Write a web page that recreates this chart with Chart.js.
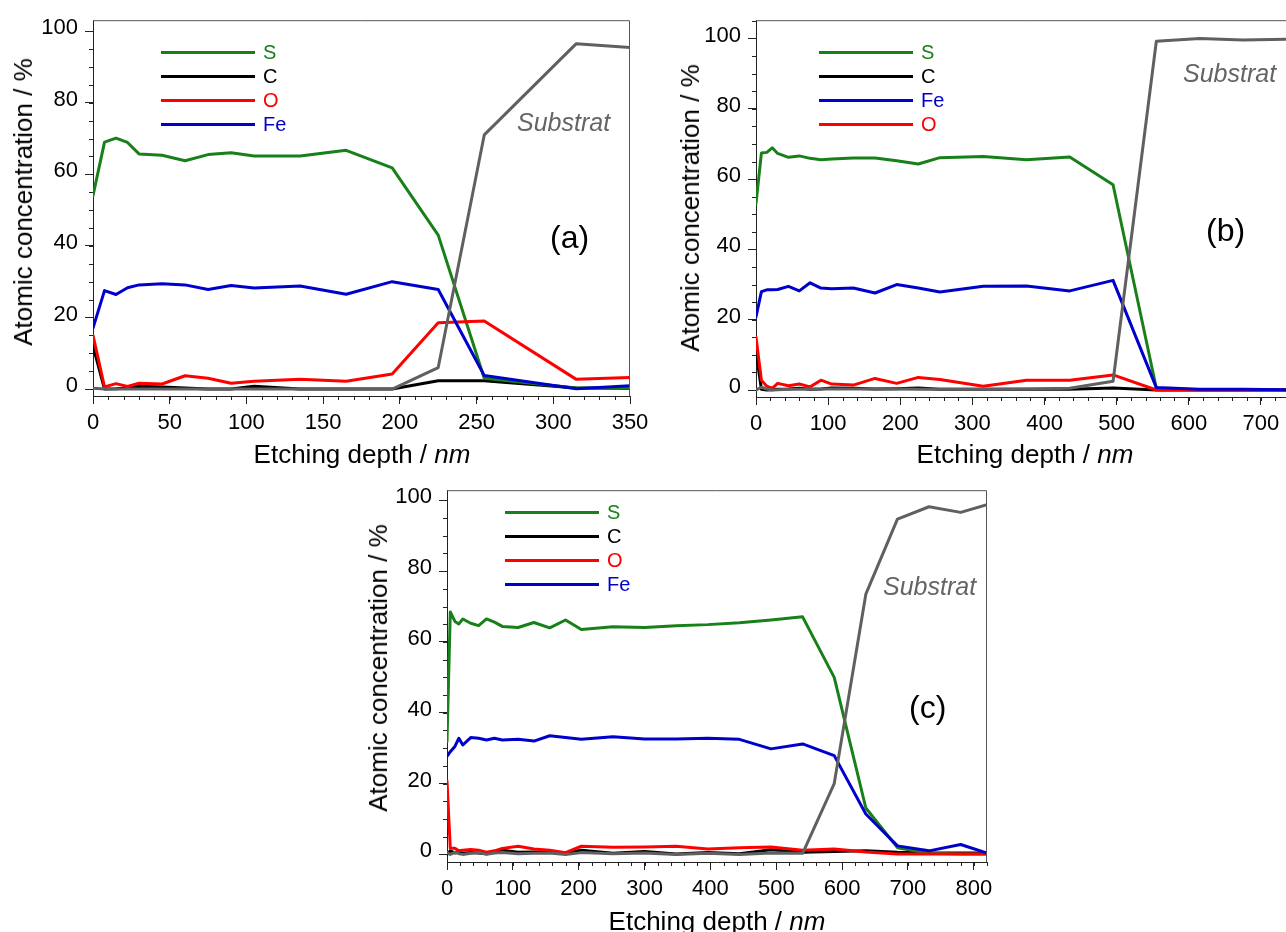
<!DOCTYPE html>
<html>
<head>
<meta charset="utf-8">
<title>Depth profiles</title>
<script src="https://cdn.jsdelivr.net/npm/chart.js@4.4.0/dist/chart.umd.min.js"></script>
<style>
  html, body { margin: 0; padding: 0; background: #fff; }
  body { width: 1286px; height: 932px; position: relative; overflow: hidden;
         font-family: Arial, "Liberation Sans", sans-serif; }
  canvas { position: absolute; }
  .txt { position: absolute; white-space: nowrap; line-height: 1; color: #000; }
  .ytitle { font-size: 26px; transform: translate(-50%, -50%) rotate(-90deg); }
  .xtitle { font-size: 26px; transform: translate(-50%, -50%); }
  .subst { font-size: 25px; font-style: italic; color: #646464; }
  .tag { font-size: 32px; }
  .legend { position: absolute; }
  .legend div { height: 24px; display: flex; align-items: center; }
  .legend .ln { display: inline-block; width: 94px; height: 3px; margin-right: 8px; }
  .legend .lb { font-size: 20px; line-height: 1; }
</style>
</head>
<body>

<canvas id="chartA" width="660" height="470" style="left:0;top:0"></canvas>
<canvas id="chartB" width="660" height="470" style="left:660px;top:0"></canvas>
<canvas id="chartC" width="660" height="462" style="left:350px;top:470px"></canvas>

<div class="txt ytitle" style="left:23px;top:202px">Atomic concentration / %</div>
<div class="txt xtitle" style="left:362px;top:454px">Etching depth / <i>nm</i></div>
<div class="txt subst" style="left:517px;top:110px">Substrat</div>
<div class="txt tag" style="left:550px;top:221px">(a)</div>
<div class="legend" id="legendA" style="left:161px;top:40px"></div>

<div class="txt ytitle" style="left:690px;top:208px">Atomic concentration / %</div>
<div class="txt xtitle" style="left:1025px;top:454px">Etching depth / <i>nm</i></div>
<div class="txt subst" style="left:1183px;top:61px">Substrat</div>
<div class="txt tag" style="left:1206px;top:214px">(b)</div>
<div class="legend" id="legendB" style="left:819px;top:40px"></div>

<div class="txt ytitle" style="left:378px;top:668px">Atomic concentration / %</div>
<div class="txt xtitle" style="left:717px;top:921px">Etching depth / <i>nm</i></div>
<div class="txt subst" style="left:883px;top:574px">Substrat</div>
<div class="txt tag" style="left:909px;top:691px">(c)</div>
<div class="legend" id="legendC" style="left:505px;top:500px"></div>

<script>
// ---------- data: panel (a) ----------
const depthA = [0, 7.5, 15, 22.5, 30, 45, 60, 75, 90, 105, 135, 165, 195, 225, 255, 315, 350];
const sA   = [54, 69, 70.1, 68.9, 65.7, 65.3, 63.8, 65.5, 66, 65.1, 65.1, 66.7, 61.8, 43, 3, 0.3, 0.4];
const cA   = [12, 0, 0.1, 0.3, 0.8, 0.6, 0.3, 0, 0, 0.8, 0, 0, 0, 2.3, 2.3, 0.3, 0.2];
const oA   = [15, 0.6, 1.5, 0.7, 1.6, 1.4, 3.7, 3, 1.6, 2.2, 2.7, 2.2, 4.2, 18.5, 19, 2.7, 3.2];
const feA  = [17, 27.5, 26.4, 28.3, 29.1, 29.4, 29.1, 27.8, 28.9, 28.2, 28.8, 26.5, 30, 27.8, 3.8, 0.1, 0.9];
const subA = [0.2, 0, 0, 0, 0, 0, 0, 0, 0, 0, 0, 0, 0, 6, 71, 96.5, 95.4];

// ---------- data: panel (b) ----------
const depthB = [0, 7.5, 15, 22.5, 30, 45, 60, 75, 90, 105, 135, 165, 195, 225, 255, 315, 375, 435, 495, 555, 615, 675, 735, 795];
const sB   = [53, 67.4, 67.6, 68.9, 67.3, 66.2, 66.6, 65.9, 65.5, 65.7, 66, 66, 65.2, 64.3, 66.1, 66.4, 65.5, 66.3, 58.4, 0.5, 0, 0, 0, 0];
const cB   = [11, 0.2, 0, 0.1, 0.2, 0.3, 0.5, 0.2, 0.3, 0.6, 0.5, 0.3, 0.4, 0.6, 0.2, 0.2, 0.2, 0.2, 0.6, 0, 0, 0, 0, 0];
const feB  = [20.8, 28, 28.5, 28.5, 28.6, 29.5, 28.2, 30.5, 29, 28.8, 29, 27.6, 30, 29, 27.9, 29.5, 29.6, 28.2, 31.2, 0.7, 0.2, 0.2, 0.1, 0.1];
const oB   = [15, 2.8, 1.1, 0.5, 1.9, 1.2, 1.7, 0.9, 2.8, 1.7, 1.4, 3.3, 1.9, 3.6, 3, 1.1, 2.8, 2.8, 4.3, 0, 0, 0, 0, 0];
const subB = [0, 0.8, 0.3, 0, 0.1, 0.2, 0.2, 0.3, 0.3, 0.3, 0.3, 0.3, 0.3, 0.2, 0.2, 0.2, 0.3, 0.5, 2.5, 99.2, 100, 99.6, 99.8, 99.7];

// ---------- data: panel (c) ----------
const depthC = [0, 5, 12, 18, 24, 36, 48, 60, 72, 84, 108, 132, 156, 180, 204, 252, 300, 348, 396, 444, 492, 540, 588, 636, 684, 732, 780, 820];
const sC   = [31.8, 68.5, 65.8, 65.1, 66.5, 65.3, 64.6, 66.5, 65.6, 64.4, 64.1, 65.5, 64, 66.2, 63.5, 64.3, 64.1, 64.6, 64.9, 65.4, 66.2, 67.1, 50, 13.1, 1.9, 0.3, 0.1, 0.1];
const cC   = [0, 1, 0.4, 0.8, 0.3, 0.5, 0.4, 0.2, 0.6, 1.2, 0.6, 0.7, 0.5, 0.3, 1.2, 0.3, 0.8, 0.1, 0.5, 0.2, 1.3, 0.6, 0.8, 1, 0.6, 0.4, 0.4, 0.4];
const oC   = [20.7, 1.7, 1.7, 1, 1.2, 1.4, 1.2, 0.6, 1, 1.7, 2.3, 1.5, 1.2, 0.5, 2.3, 2, 2.1, 2.3, 1.5, 1.9, 2.1, 1.2, 1.5, 0.7, 0.1, 0.1, 0.1, 0.1];
const feC  = [27.7, 29, 30.5, 32.8, 30.9, 33, 32.8, 32.3, 32.8, 32.3, 32.5, 32, 33.5, 33, 32.5, 33.2, 32.6, 32.6, 32.8, 32.5, 29.8, 31.2, 27.9, 11.4, 2.4, 1, 2.8, 0.4];
const subC = [0.5, 0, 0.6, 0.2, 0, 0.3, 0.5, 0, 0.4, 0.5, 0.2, 0.3, 0.4, 0, 0.5, 0.2, 0.4, 0, 0.3, 0, 0.4, 0.3, 20, 73.5, 94.7, 98.2, 96.6, 98.8];

// tick labels
const yTicks  = [0, 20, 40, 60, 80, 100];
const xTicksA = [0, 50, 100, 150, 200, 250, 300, 350];
const xTicksB = [0, 100, 200, 300, 400, 500, 600, 700];
const xTicksC = [0, 100, 200, 300, 400, 500, 600, 700, 800];

const colours = { S: '#188018', C: '#000000', O: '#ff0000', Fe: '#0000cc', Substrat: '#606060' };
const FONT = 'Arial, "Liberation Sans", sans-serif';

// minor ticks and the top/right frame of the plot box
const minorTicks = {
    id: 'minorTicks',
    afterDraw(chart, args, opts) {
        const { ctx, chartArea, scales } = chart;
        const xs = scales.x, ys = scales.y;
        ctx.save();
        ctx.strokeStyle = '#222';
        ctx.lineWidth = 1;
        ctx.beginPath();
        for (let v = 0; v <= xs.max; v += opts.x) {
            const px = Math.round(xs.getPixelForValue(v)) + 0.5;
            ctx.moveTo(px, chartArea.bottom);
            ctx.lineTo(px, chartArea.bottom + 4);
        }
        for (let v = 0; v <= ys.max; v += opts.y) {
            const py = Math.round(ys.getPixelForValue(v)) + 0.5;
            ctx.moveTo(chartArea.left, py);
            ctx.lineTo(chartArea.left - 4, py);
        }
        ctx.stroke();
        ctx.strokeStyle = '#555';
        ctx.beginPath();
        ctx.moveTo(chartArea.left, chartArea.top + 0.5);
        ctx.lineTo(chartArea.right - 0.5, chartArea.top + 0.5);
        ctx.lineTo(chartArea.right - 0.5, chartArea.bottom);
        ctx.stroke();
        ctx.restore();
    }
};

function makePanel(p) {
    // dataset 0 is drawn on top
    const order = ['Substrat', 'Fe', 'O', 'S', 'C'];
    const datasets = order.map(name => ({
        label: name,
        data: p.depth.map((d, i) => ({ x: d, y: p.series[name][i] })),
        borderColor: colours[name],
        borderWidth: 3,
        borderJoinStyle: 'round',
        borderCapStyle: 'round',
        pointRadius: 0,
        tension: 0,
        fill: false
    }));

    new Chart(document.getElementById(p.id), {
        type: 'line',
        data: { datasets },
        options: {
            responsive: false,
            animation: false,
            events: [],
            layout: { padding: { top: p.padTop, right: p.padRight, left: 0, bottom: 0 } },
            plugins: {
                legend: { display: false },
                tooltip: { enabled: false },
                minorTicks: { x: p.minorX, y: 5 }
            },
            scales: {
                x: {
                    type: 'linear',
                    min: 0,
                    max: p.xMax,
                    afterBuildTicks: s => { s.ticks = p.xTicks.map(v => ({ value: v })); },
                    afterFit: s => { s.height = p.xAxisH; },
                    grid: { drawOnChartArea: false, tickLength: 8, tickColor: '#222' },
                    border: { color: '#222' },
                    ticks: { color: '#000', font: { family: FONT, size: 22 }, padding: 6, maxRotation: 0, autoSkip: false }
                },
                y: {
                    min: p.yMin,
                    max: p.yMax,
                    afterBuildTicks: s => { s.ticks = yTicks.map(v => ({ value: v })); },
                    afterFit: s => { s.width = p.yAxisW; },
                    grid: { drawOnChartArea: false, tickLength: 8, tickColor: '#222' },
                    border: { color: '#222' },
                    ticks: { color: '#000', font: { family: FONT, size: 22 }, padding: 7, labelOffset: -3 }
                }
            }
        },
        plugins: [minorTicks]
    });

    // legend as plain text next to line samples
    const box = document.getElementById(p.legendId);
    p.legend.forEach(name => {
        const row = document.createElement('div');
        row.innerHTML = '<span class="ln" style="background:' + colours[name] + '"></span>' +
                        '<span class="lb" style="color:' + colours[name] + '">' + name + '</span>';
        box.appendChild(row);
    });
}

makePanel({
    id: 'chartA', legendId: 'legendA',
    depth: depthA,
    series: { S: sA, C: cA, O: oA, Fe: feA, Substrat: subA },
    legend: ['S', 'C', 'O', 'Fe'],
    xMax: 350, xTicks: xTicksA, minorX: 10,
    yMin: -1.95, yMax: 103.06,
    padTop: 19, padRight: 30, yAxisW: 93, xAxisH: 74
});

makePanel({
    id: 'chartB', legendId: 'legendB',
    depth: depthB,
    series: { S: sB, C: cB, O: oB, Fe: feB, Substrat: subB },
    legend: ['S', 'C', 'Fe', 'O'],
    xMax: 750, xTicks: xTicksB, minorX: 20,
    yMin: -1.98, yMax: 105.2,
    padTop: 19, padRight: 23, yAxisW: 96, xAxisH: 73
});

makePanel({
    id: 'chartC', legendId: 'legendC',
    depth: depthC,
    series: { S: sC, C: cC, O: oC, Fe: feC, Substrat: subC },
    legend: ['S', 'C', 'O', 'Fe'],
    xMax: 820, xTicks: xTicksC, minorX: 20,
    yMin: -2.15, yMax: 102.87,
    padTop: 15, padRight: 23, yAxisW: 97, xAxisH: 70
});
</script>
</body>
</html>
